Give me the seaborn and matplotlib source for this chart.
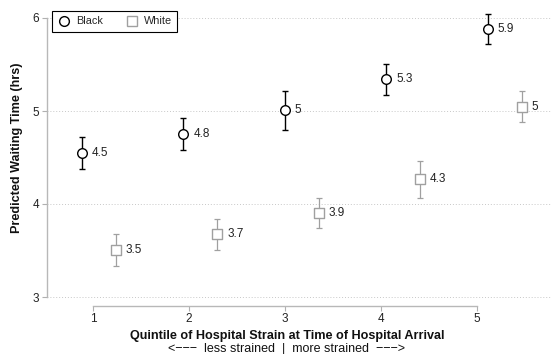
import numpy as np
import pandas as pd
import matplotlib
matplotlib.use("Agg")
import matplotlib.pyplot as plt
from matplotlib.lines import Line2D
import seaborn as sns

# ---- data ----
quintiles = [1, 2, 3, 4, 5]
tick_labels = ["1", "2", "3", "4", "5"]
groups = ["Black", "White"]
black_est = [4.55, 4.753, 5.01, 5.339, 5.878]
black_lo = [4.376, 4.58, 4.796, 5.17, 5.717]
black_hi = [4.717, 4.928, 5.218, 5.51, 6.04]
white_est = [3.505, 3.674, 3.907, 4.265, 5.046]
white_lo = [3.333, 3.505, 3.745, 4.068, 4.878]
white_hi = [3.677, 3.835, 4.061, 4.462, 5.218]
y_ticks = [3, 4, 5, 6]

sns.set_theme(style="white")
plt.rcParams["font.family"] = ["Liberation Sans", "DejaVu Sans"]

offsets = {"Black": -0.167, "White": 0.167}
colors = {"Black": "#000000", "White": "#a0a0a0"}
markers = {"Black": "o", "White": "s"}

rows = []
for g, est, lo, hi in [("Black", black_est, black_lo, black_hi),
                       ("White", white_est, white_lo, white_hi)]:
    for q, e, l, h in zip(quintiles, est, lo, hi):
        rows.append(dict(group=g, quintile=q, x=q + offsets[g], est=e, lo=l, hi=h))
df = pd.DataFrame(rows)

W, H = 552, 354
fig = plt.figure(figsize=(W / 100, H / 100), dpi=100)
left, right, top, bottom = 47, 552, 10, 306
ax = fig.add_axes([left / W, (H - bottom) / H, (right - left) / W, (bottom - top) / H])
ax.patch.set_alpha(0)

ppu_y = 93.0
ax.set_ylim(3 - (bottom - 297) / ppu_y, 6 + (18 - top) / ppu_y)
ppu_x = 101.4
ax.set_xlim(1 + (left - 99) / ppu_x, 1 + (right - 99) / ppu_x)

# grid
for yv in y_ticks:
    ax.axhline(yv, color="#c8c8c8", lw=0.7, ls=(0, (1, 2)), zorder=0)

for g in groups:
    sub = df[df.group == g]
    lw = 1.0 if g == "Black" else 0.9
    ax.errorbar(sub.x, sub.est, yerr=[sub.est - sub.lo, sub.hi - sub.est],
                fmt="none", ecolor=colors[g], elinewidth=lw, capsize=2.3,
                capthick=lw, zorder=2)
    sns.scatterplot(data=sub, x="x", y="est", marker=markers[g], s=48 if g == "Black" else 44,
                    facecolor="white", edgecolor=colors[g], linewidth=1.0,
                    ax=ax, zorder=3, legend=False)
    for _, r in sub.iterrows():
        lab = f"{r.est:.1f}"
        if lab.endswith(".0"):
            lab = lab[:-2]
        ax.annotate(lab, (r.x, r.est), xytext=(7, 0), textcoords="offset points",
                    va="center", ha="left", fontsize=8.5, color="#222222")

# y axis
ax.set_yticks(y_ticks)
ax.set_yticklabels([str(v) for v in y_ticks], fontsize=8.5, color="#222222")
ax.tick_params(axis="y", length=3.5, width=0.8, color="#b0b0b0", pad=2, left=True)
ax.spines["left"].set_bounds(3, 6)
ax.spines["left"].set_color("#b8b8b8")
ax.spines["left"].set_linewidth(1.0)
for s in ["top", "right", "bottom"]:
    ax.spines[s].set_visible(False)
ax.set_xticks([])
ax.set_xlabel("")
ax.set_ylabel("")

# x axis on its own scale
ax2 = ax.twiny()
ppu_x2 = 96.0
ax2.set_xlim(1 + (left - 93) / ppu_x2, 1 + (right - 93) / ppu_x2)
ax2.xaxis.set_ticks_position("bottom")
ax2.xaxis.set_label_position("bottom")
for s in ["top", "right", "left"]:
    ax2.spines[s].set_visible(False)
ax2.spines["bottom"].set_visible(True)
ax2.spines["bottom"].set_bounds(quintiles[0], quintiles[-1])
ax2.spines["bottom"].set_color("#b8b8b8")
ax2.spines["bottom"].set_linewidth(1.0)
ax2.set_xticks(quintiles)
ax2.set_xticklabels(tick_labels, fontsize=8.5, color="#222222")
ax2.tick_params(axis="x", length=3.5, width=0.8, color="#b0b0b0", pad=1.5, bottom=True, top=False)

fig.text(17 / W, 1 - 148 / H, "Predicted Waiting Time (hrs)", rotation=90,
         ha="center", va="center", fontsize=9.1, fontweight="bold", color="#111111")
fig.text(287 / W, 1 - 336 / H, "Quintile of Hospital Strain at Time of Hospital Arrival",
         ha="center", va="center", fontsize=9.1, fontweight="bold", color="#111111")
fig.text(286 / W, 1 - 349 / H, "<\u2212\u2212\u2212  less strained  |  more strained  \u2212\u2212\u2212>",
         ha="center", va="center", fontsize=9, color="#111111")

handles = [Line2D([], [], marker="o", ls="none", mfc="white", mec="black", ms=7.0, mew=1.0),
           Line2D([], [], marker="s", ls="none", mfc="white", mec="#a0a0a0", ms=6.5, mew=1.0)]
leg = ax.legend(handles, groups, loc="upper left", bbox_to_anchor=(52 / W, 1 - 11 / H),
                bbox_transform=fig.transFigure, ncol=2, frameon=True, fancybox=False,
                fontsize=7.8, borderaxespad=0, borderpad=0.5, handletextpad=0.5,
                columnspacing=2.1, handlelength=1.2)
leg.get_frame().set_edgecolor("black")
leg.get_frame().set_linewidth(0.8)
leg.get_frame().set_alpha(1)

fig.savefig("out.png", dpi=100)
